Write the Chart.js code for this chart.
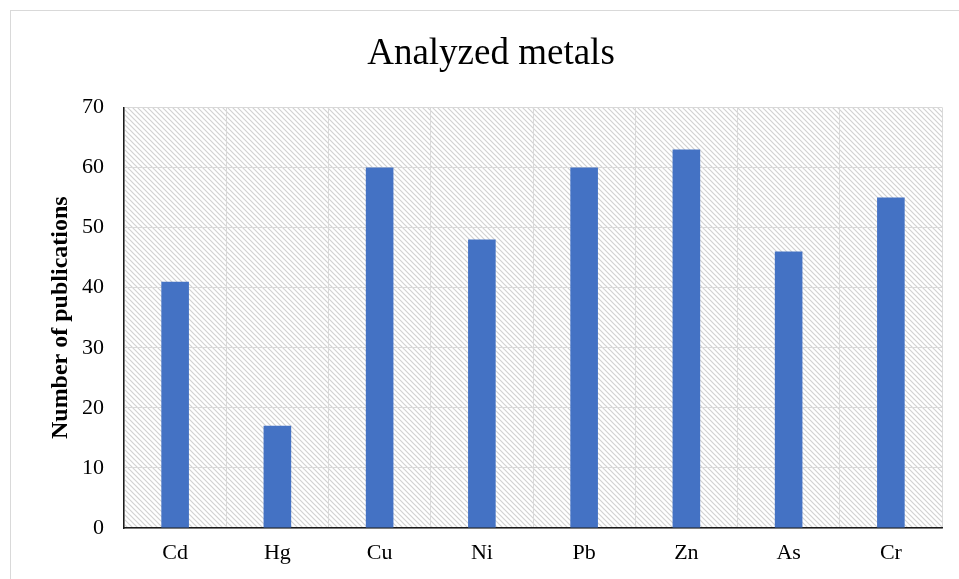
<!DOCTYPE html>
<html>
<head>
<meta charset="utf-8">
<script src="https://cdn.jsdelivr.net/npm/chart.js@4"></script>
<style>
  html, body { margin: 0; padding: 0; background: #fff; }
  #wrap { width: 959px; height: 579px; position: relative; }
</style>
</head>
<body>
<div id="wrap"><canvas id="metals"></canvas></div>
<script>
const metals = ['Cd', 'Hg', 'Cu', 'Ni', 'Pb', 'Zn', 'As', 'Cr'];
const publications = [41, 17, 60, 48, 60, 63, 46, 55];
const yTicks = [0, 10, 20, 30, 40, 50, 60, 70];

// motif hachuré du fond de la zone de tracé
function hatchPattern(ctx) {
    const size = 5;
    const tile = document.createElement('canvas');
    tile.width = size;
    tile.height = size;
    const t = tile.getContext('2d');
    t.strokeStyle = '#d2d2d2';
    t.lineWidth = 1.2;
    t.beginPath();
    t.moveTo(-1, -1);
    t.lineTo(size + 1, size + 1);
    t.moveTo(-1, size - 1);
    t.lineTo(1, size + 1);
    t.moveTo(size - 1, -1);
    t.lineTo(size + 1, 1);
    t.stroke();
    return ctx.createPattern(tile, 'repeat');
}

const background = {
    id: 'background',
    beforeDraw(chart) {
        const ctx = chart.ctx;
        const a = chart.chartArea;
        ctx.save();
        ctx.fillStyle = '#fff';
        ctx.fillRect(0, 0, chart.width, chart.height);
        ctx.strokeStyle = '#d9d9d9';
        ctx.lineWidth = 1;
        ctx.strokeRect(10.5, 10.5, chart.width + 20, chart.height + 20);
        ctx.fillStyle = hatchPattern(ctx);
        ctx.fillRect(a.left, a.top, a.right - a.left, a.bottom - a.top);
        ctx.restore();
    }
};

const ctx = document.getElementById('metals').getContext('2d');

new Chart(ctx, {
    type: 'bar',
    data: {
        labels: metals,
        datasets: [{
            data: publications,
            backgroundColor: '#4472C4',
            barPercentage: 0.27,
            categoryPercentage: 1,
        }]
    },
    options: {
        responsive: true,
        maintainAspectRatio: false,
        animation: false,
        layout: { padding: { left: 40, right: 17, top: 0, bottom: 0 } },
        plugins: {
            legend: { display: false },
            tooltip: { enabled: false },
            title: {
                display: true,
                text: 'Analyzed metals',
                color: '#000',
                font: { family: 'Liberation Serif', size: 37, weight: 'normal' },
                padding: { top: 32, bottom: 31 },
            }
        },
        scales: {
            x: {
                grid: { color: '#d9d9d9', drawTicks: false, offset: true },
                border: { color: '#1a1a1a', width: 1.5 },
                ticks: {
                    color: '#000',
                    padding: 12,
                    font: { family: 'Liberation Serif', size: 22 },
                },
                afterFit(scale) { scale.height = 51; }
            },
            y: {
                min: 0,
                max: 70,
                afterBuildTicks(scale) { scale.ticks = yTicks.map(v => ({ value: v })); },
                grid: { color: '#d9d9d9', drawTicks: false },
                border: { color: '#1a1a1a', width: 1.5 },
                ticks: {
                    color: '#000',
                    padding: 20,
                    font: { family: 'Liberation Serif', size: 22 },
                },
                title: {
                    display: true,
                    text: 'Number of publications',
                    color: '#000',
                    font: { family: 'Liberation Serif', size: 24, weight: 'bold' },
                    padding: { top: 6, bottom: 4 },
                },
                afterFit(scale) { scale.width = 124 - 40; }
            }
        }
    },
    plugins: [background]
});
</script>
</body>
</html>
